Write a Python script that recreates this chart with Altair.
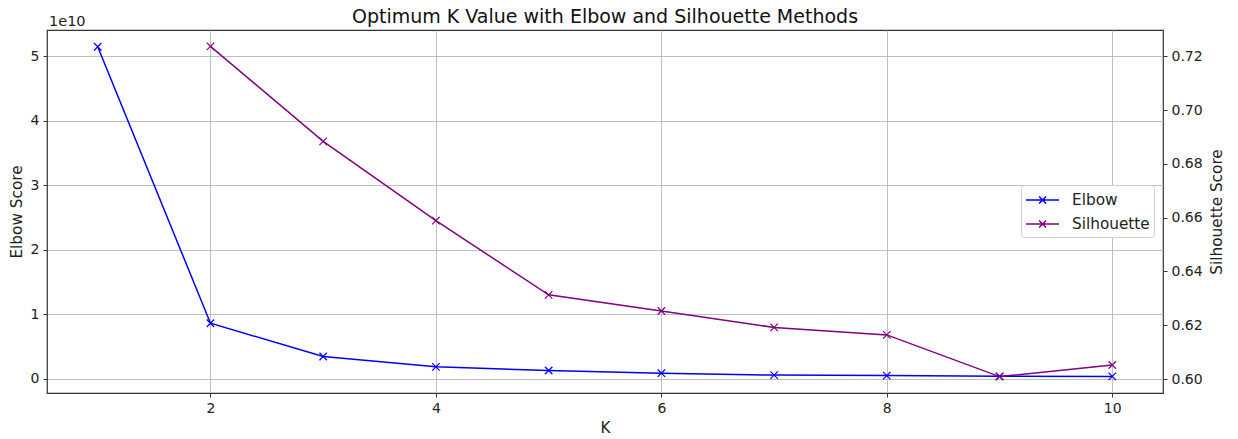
import altair as alt
import pandas as pd

k_elbow = list(range(1, 11))
elbow = [5.15e10, 8.62e9, 3.46e9, 1.86e9, 1.29e9, 8.7e8, 5.8e8, 5.0e8, 3.9e8, 3.7e8]
k_sil = list(range(2, 11))
silhouette = [0.7237, 0.6884, 0.6589, 0.6313, 0.6253, 0.6192, 0.6164, 0.6009, 0.6052]

df_e = pd.DataFrame({"K": k_elbow, "Elbow": elbow, "method": "Elbow"})
df_s = pd.DataFrame({"K": k_sil, "Silhouette": silhouette, "method": "Silhouette"})

FONT = "DejaVu Sans"
XPATH = "M-1,-1L1,1M-1,1L1,-1"
LEGPATH = "M-1,0H2.3M0.31,-0.35L1.01,0.35M0.31,0.35L1.01,-0.35"

color = alt.Color(
    "method:N",
    scale=alt.Scale(domain=["Elbow", "Silhouette"], range=["#0000ff", "#800080"]),
    legend=alt.Legend(
        title=None, orient="none", legendX=974, legendY=155,
        symbolType=LEGPATH, symbolSize=400, symbolStrokeWidth=1.5,
        labelFontSize=15.3, labelFont=FONT, labelColor="#222",
        strokeColor="#d0d0d0", fillColor="white", padding=4, cornerRadius=3,
        rowPadding=4, labelOffset=25,
    ),
)

xs = alt.X("K:Q", title="K",
           scale=alt.Scale(domain=[0.55, 10.45], nice=False, zero=False),
           axis=alt.Axis(values=[2, 4, 6, 8, 10], grid=True, gridColor="#b0b0b0",
                         gridWidth=0.8, tickSize=4, tickColor="#333", domain=False,
                         labelFontSize=14, labelFont=FONT, labelColor="#222",
                         titleFontSize=15.3, titleFont=FONT, titleFontWeight="normal",
                         titleColor="#222", labelPadding=4, titlePadding=5))

ye = alt.Y("Elbow:Q", title="Elbow Score",
           scale=alt.Scale(domain=[-0.22e10, 5.41e10], nice=False, zero=False),
           axis=alt.Axis(values=[0, 1e10, 2e10, 3e10, 4e10, 5e10],
                         labelExpr="format(datum.value/1e10, 'd')",
                         grid=True, gridColor="#b0b0b0", gridWidth=0.8,
                         tickSize=4, tickColor="#333", domain=False,
                         labelFontSize=14, labelFont=FONT, labelColor="#222",
                         titleFontSize=15.3, titleFont=FONT, titleFontWeight="normal",
                         titleColor="#222", labelPadding=4, titlePadding=6))

ys = alt.Y("Silhouette:Q", title="Silhouette Score",
           scale=alt.Scale(domain=[0.5948, 0.7298], nice=False, zero=False),
           axis=alt.Axis(orient="right", values=[0.60, 0.62, 0.64, 0.66, 0.68, 0.70, 0.72],
                         format=".2f", grid=False, tickSize=4, tickColor="#333", domain=False,
                         labelFontSize=14, labelFont=FONT, labelColor="#222",
                         titleFontSize=15.3, titleFont=FONT, titleFontWeight="normal",
                         titleColor="#222", titleAngle=270, titleBaseline="bottom",
                         labelPadding=4, titlePadding=22))

base_e = alt.Chart(df_e)
elbow_layer = alt.layer(
    base_e.mark_line(strokeWidth=1.5).encode(x=xs, y=ye, color=color),
    base_e.mark_point(shape=XPATH, filled=False, size=56, strokeWidth=1.2, opacity=1)
    .encode(x=xs, y=ye, color=color),
)

base_s = alt.Chart(df_s)
sil_layer = alt.layer(
    base_s.mark_line(strokeWidth=1.5).encode(x=xs, y=ys, color=color),
    base_s.mark_point(shape=XPATH, filled=False, size=56, strokeWidth=1.2, opacity=1)
    .encode(x=xs, y=ys, color=color),
)

offset_text = alt.Chart(pd.DataFrame({"t": ["1e10"]})).mark_text(
    align="left", baseline="alphabetic", fontSize=14.5, font=FONT, color="#222"
).encode(text="t:N", x=alt.value(2), y=alt.value(-4))

chart = alt.layer(elbow_layer, sil_layer, offset_text).resolve_scale(
    y="independent"
).properties(
    width=1116, height=363,
    title=alt.TitleParams("Optimum K Value with Elbow and Silhouette Methods",
                          fontSize=19, font=FONT, fontWeight="normal", color="#111",
                          anchor="middle", offset=0, dy=13),
    autosize=alt.AutoSizeParams(type="none"),
    padding={"left": 47, "top": 30, "right": 75, "bottom": 46},
).configure_view(stroke="#333", strokeWidth=1.2)

chart.save("out.html", embed_options={"renderer": "svg", "actions": False})
